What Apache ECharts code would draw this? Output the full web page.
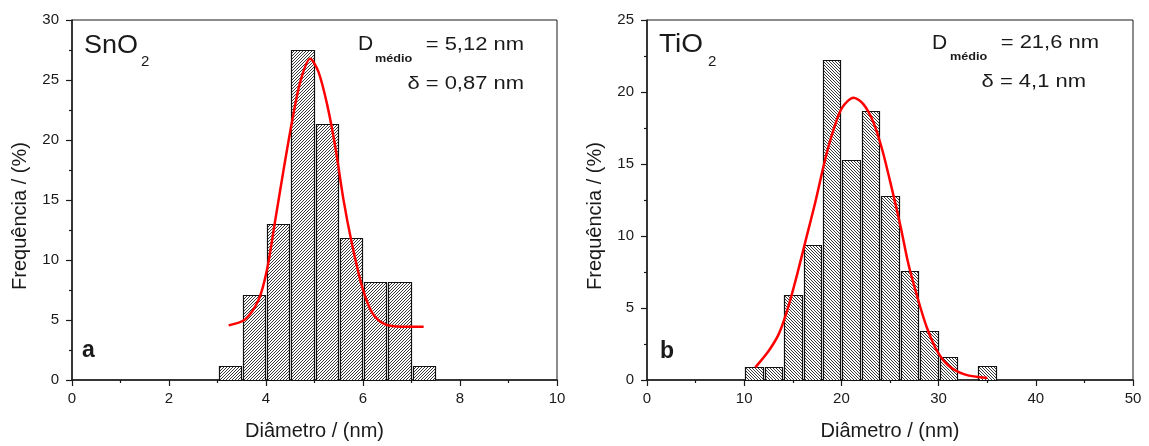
<!DOCTYPE html>
<html>
<head>
<meta charset="utf-8">
<script src="https://cdn.jsdelivr.net/npm/echarts@6/dist/echarts.min.js"></script>
<style>
  html, body { margin: 0; padding: 0; background: #fff; }
  #chart { width: 1149px; height: 446px; }
</style>
</head>
<body>
<div id="chart"></div>
<script>
// ---- SnO2 size distribution ----
const sno2BinStart = [3.0, 3.5, 4.0, 4.5, 5.0, 5.5, 6.0, 6.5, 7.0];
const sno2BinEnd   = [3.5, 4.0, 4.5, 5.0, 5.5, 6.0, 6.5, 7.0, 7.5];
const sno2Freq     = [1.2, 7.1, 13.0, 27.5, 21.3, 11.8, 8.2, 8.2, 1.2];
// Gaussian fit (SnO2)
const sno2FitX = [3.23, 3.57, 3.85, 4.02, 4.19, 4.36, 4.54, 4.71, 4.91, 5.08, 5.26, 5.43, 5.60, 5.77, 5.98, 6.19, 6.46, 6.80, 7.25];
const sno2FitY = [4.55, 5.05, 6.70, 9.18, 13.3, 17.45, 21.6, 24.9, 26.77, 25.7, 22.97, 19.4, 14.97, 11.39, 7.8, 5.6, 4.63, 4.44, 4.44];
const sno2XTicks = [0, 2, 4, 6, 8, 10];
const sno2YTicks = [0, 5, 10, 15, 20, 25, 30];

// ---- TiO2 size distribution ----
const tio2BinStart = [10, 12, 14, 16, 18, 20, 22, 24, 26, 28, 30, 34];
const tio2BinEnd   = [12, 14, 16, 18, 20, 22, 24, 26, 28, 30, 32, 36];
const tio2Freq     = [0.9, 0.9, 5.9, 9.4, 22.2, 15.3, 18.7, 12.8, 7.6, 3.4, 1.6, 1.0];
// Gaussian fit (TiO2)
const tio2FitX = [11.14, 12.51, 13.54, 14.4, 15.26, 16.29, 17.32, 18.34, 19.2, 20.06, 21.26, 22.28, 23.31, 24.18, 25.03, 26.06, 26.91, 27.94, 28.8, 29.84, 31.03, 32.75, 35.0];
const tio2FitY = [0.88, 2.02, 3.17, 4.78, 6.85, 9.6, 12.36, 15.35, 17.4, 18.9, 19.6, 19.14, 17.87, 16.04, 13.74, 10.75, 8.0, 5.47, 3.63, 2.02, 0.99, 0.37, 0.14];
const tio2XTicks = [0, 10, 20, 30, 40, 50];
const tio2YTicks = [0, 5, 10, 15, 20, 25];

const FONT = 'Liberation Sans, Arial, sans-serif';
const INK = '#1a1a1a';

// Small repeating tile with a one-pixel diagonal line (dir 1 = "/", dir -1 = "\")
function hatchTile(dir) {
  const s = 3;
  const c = document.createElement('canvas');
  c.width = s; c.height = s;
  const g = c.getContext('2d');
  g.fillStyle = '#ffffff';
  g.fillRect(0, 0, s, s);
  g.fillStyle = '#3a3a3a';
  for (let i = 0; i < s; i++) {
    g.fillRect(i, dir > 0 ? s - 1 - i : i, 1, 1);
  }
  return { image: c, repeat: 'repeat' };
}

function zipBins(a, b, v) { return a.map((s, i) => [s, b[i], v[i]]); }
function zipXY(x, y) { return x.map((v, i) => [v, y[i]]); }

function histSeries(idx, data, pattern) {
  return {
    type: 'custom',
    xAxisIndex: idx, yAxisIndex: idx,
    encode: { x: [0, 1], y: 2 },
    data: data,
    z: 2,
    renderItem: function (params, api) {
      const p0 = api.coord([api.value(0), api.value(2)]);
      const p1 = api.coord([api.value(1), 0]);
      const x0 = Math.round(p0[0]) + 1.5;
      const x1 = Math.round(p1[0]) - 0.5;
      const y0 = Math.round(p0[1]) + 0.5;
      const y1 = Math.round(p1[1]) + 0.5;
      return {
        type: 'rect',
        shape: { x: x0, y: y0, width: x1 - x0, height: y1 - y0 },
        style: { fill: pattern, stroke: '#111', lineWidth: 1.2 }
      };
    }
  };
}

function fitSeries(idx, data) {
  return {
    type: 'line', xAxisIndex: idx, yAxisIndex: idx,
    data: data, smooth: 0.3, showSymbol: false, z: 5,
    lineStyle: { color: '#ff0000', width: 2.5 }
  };
}

function xAxisCfg(idx, ticks) {
  return {
    gridIndex: idx, type: 'value',
    min: ticks[0], max: ticks[ticks.length - 1], interval: ticks[1] - ticks[0],
    axisLine: { show: true, onZero: false, lineStyle: { color: INK, width: 1.5 } },
    axisTick: { show: true, inside: false, length: 6, lineStyle: { color: INK, width: 1.2 } },
    minorTick: { show: true, splitNumber: 2, length: 3, lineStyle: { color: INK, width: 1.2 } },
    splitLine: { show: false },
    axisLabel: { margin: 11, fontSize: 15, color: INK, fontFamily: FONT },
    name: 'Diâmetro / (nm)', nameLocation: 'middle', nameGap: 41,
    nameTextStyle: { fontSize: 20, color: INK, fontFamily: FONT }
  };
}

function yAxisCfg(idx, ticks) {
  return {
    gridIndex: idx, type: 'value',
    min: ticks[0], max: ticks[ticks.length - 1], interval: ticks[1] - ticks[0],
    axisLine: { show: true, onZero: false, lineStyle: { color: INK, width: 1.5 } },
    axisTick: { show: true, inside: false, length: 6, lineStyle: { color: INK, width: 1.2 } },
    minorTick: { show: true, splitNumber: 2, length: 3, lineStyle: { color: INK, width: 1.2 } },
    splitLine: { show: false },
    axisLabel: { margin: 13, fontSize: 15, color: INK, fontFamily: FONT }
  };
}

function txt(x, y, text, size, opts) {
  opts = opts || {};
  return {
    type: 'text', x: x, y: y, z: 10,
    rotation: opts.rotation || 0,
    scaleX: opts.scaleX || 1,
    style: {
      text: text, fill: INK,
      font: (opts.weight || 'normal') + ' ' + size + 'px ' + FONT,
      align: opts.align || 'left', verticalAlign: 'middle'
    }
  };
}

const chart = echarts.init(document.getElementById('chart'), null, { renderer: 'canvas' });

chart.setOption({
  backgroundColor: '#ffffff',
  animation: false,
  grid: [
    { left: 72, right: 592, top: 20, bottom: 63, show: true, borderColor: INK, borderWidth: 1, backgroundColor: 'transparent' },
    { left: 647, right: 16, top: 20, bottom: 63, show: true, borderColor: INK, borderWidth: 1, backgroundColor: 'transparent' }
  ],
  xAxis: [xAxisCfg(0, sno2XTicks), xAxisCfg(1, tio2XTicks)],
  yAxis: [yAxisCfg(0, sno2YTicks), yAxisCfg(1, tio2YTicks)],
  series: [
    histSeries(0, zipBins(sno2BinStart, sno2BinEnd, sno2Freq), hatchTile(1)),
    fitSeries(0, zipXY(sno2FitX, sno2FitY)),
    histSeries(1, zipBins(tio2BinStart, tio2BinEnd, tio2Freq), hatchTile(-1)),
    fitSeries(1, zipXY(tio2FitX, tio2FitY))
  ],
  graphic: [
    // axis titles (vertical)
    txt(20, 216, 'Frequência / (%)', 20, { align: 'center', rotation: Math.PI / 2 }),
    txt(595, 216, 'Frequência / (%)', 20, { align: 'center', rotation: Math.PI / 2 }),
    // panel a
    txt(84, 46, 'SnO', 25, { scaleX: 1.08 }),
    txt(141, 62, '2', 15),
    txt(82, 351, 'a', 23, { weight: 'bold' }),
    txt(358, 44, 'D', 21),
    txt(375, 59, 'médio', 11, { weight: 'bold', scaleX: 1.15 }),
    txt(524, 45.5, '= 5,12 nm', 18, { align: 'right', scaleX: 1.22 }),
    txt(524, 84, 'δ = 0,87 nm', 18, { align: 'right', scaleX: 1.22 }),
    // panel b
    txt(659, 45, 'TiO', 25, { scaleX: 1.12 }),
    txt(708, 61.5, '2', 15),
    txt(660, 352, 'b', 23, { weight: 'bold' }),
    txt(932, 43, 'D', 21),
    txt(950, 56.5, 'médio', 11, { weight: 'bold', scaleX: 1.15 }),
    txt(1099, 43.5, '= 21,6 nm', 18, { align: 'right', scaleX: 1.22 }),
    txt(1086, 82, 'δ = 4,1 nm', 18, { align: 'right', scaleX: 1.22 })
  ]
});
</script>
</body>
</html>
